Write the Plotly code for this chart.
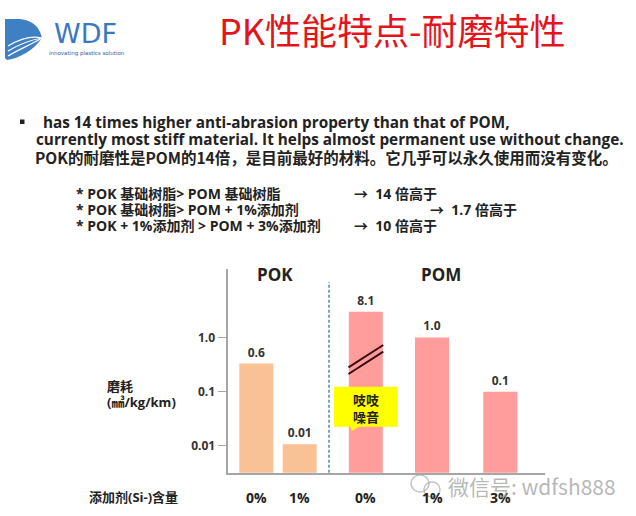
import plotly.graph_objects as go

# The page body margin is removed (see write_html post_script) so the figure fills the 636x516 window.
OFF = 0
W, H = 636 - 2 * OFF, 516 - 2 * OFF

# ---------------- data ----------------
groups = ["POK", "POK", "POM", "POM", "POM"]
additive = ["0%", "1%", "0%", "1%", "3%"]
wear_labels = ["0.6", "0.01", "8.1", "1.0", "0.1"]        # values printed above the bars
bar_tops = [0.33, 0.0107, 3.0, 1.0, 0.1]                  # bar tops as drawn on the log axis (8.1 bar is broken)
y_tickvals = [0.01, 0.1, 1.0]
y_ticktext = ["0.01", "0.1", "1.0"]
group_colors = {"POK": "#F9C196", "POM": "#FF9C9C"}

# ---------------- layout helpers ----------------
bar_x = [28.0, 71.4, 137.5, 203.7, 272.0]   # slot positions on the x axis
X0, X1 = 228.3, 545.0                        # plot area in window px
Y0, Y1 = 269.3, 472.7


def px(x):
    return (x - OFF) / W


def py(y):
    return 1 - (y - OFF) / H


LAT = "Open Sans, Noto Sans CJK SC, sans-serif"
CJK = "Noto Sans CJK SC, sans-serif"

annotations = []


def ann(text, x, y, size, color="#222222", xanchor="left", weight="bold", family=LAT):
    annotations.append(dict(
        text=text, x=px(x), y=py(y), xref="paper", yref="paper",
        xanchor=xanchor, yanchor="middle", showarrow=False,
        font=dict(size=size, color=color, family=family, weight=weight),
    ))


fig = go.Figure()
fig.add_trace(go.Bar(
    x=bar_x, y=bar_tops, width=34,
    marker=dict(color=[group_colors[g] for g in groups], line=dict(width=0)),
    text=wear_labels, textposition="outside", constraintext="none",
    textfont=dict(size=12, color="#333333", family=LAT, weight="bold"),
    cliponaxis=False, hoverinfo="skip",
))

shapes = []
# dashed divider between POK and POM
shapes.append(dict(type="line", xref="x", yref="paper", x0=329 - X0, x1=329 - X0,
                   y0=py(472.7), y1=py(282), line=dict(color="#4b8fa0", width=1.5, dash="3px,2px")))
# break marks on the 8.1 bar
shapes.append(dict(type="line", xref="paper", yref="paper", x0=px(348.5), y0=py(367.3), x1=px(383.3), y1=py(345),
                   line=dict(color="#3b0b10", width=2)))
shapes.append(dict(type="line", xref="paper", yref="paper", x0=px(348.5), y0=py(374), x1=px(383.3), y1=py(351.7),
                   line=dict(color="#3b0b10", width=2)))
# yellow callout
shapes.append(dict(type="rect", xref="paper", yref="paper", x0=px(334), x1=px(397.3), y0=py(426.7), y1=py(386.7),
                   fillcolor="#FFFF00", line=dict(width=0)))
shapes.append(dict(type="path", xref="paper", yref="paper",
                   path=f"M {px(350)},{py(426)} L {px(360)},{py(426)} L {px(352)},{py(431)} Z",
                   fillcolor="#FFFF00", line=dict(width=0)))
# bullet square
shapes.append(dict(type="rect", xref="paper", yref="paper", x0=px(20), x1=px(24.5), y0=py(124), y1=py(119.5),
                   fillcolor="#222222", line=dict(width=0)))
# logo swoosh
shapes.append(dict(type="path", xref="paper", yref="paper",
                   path=(f"M {px(5)},{py(19)} L {px(20)},{py(19)} C {px(36)},{py(21)} {px(40)},{py(30)} {px(42)},{py(38)} "
                         f"C {px(34)},{py(50)} {px(20)},{py(58)} {px(7)},{py(60)} L {px(5)},{py(58)} Z"),
                   fillcolor="#3f7fc4", line=dict(width=0)))
for off in (0, 5, 10):
    shapes.append(dict(type="path", xref="paper", yref="paper",
                       path=f"M {px(8)},{py(56 - off)} C {px(18)},{py(50 - off)} {px(30)},{py(45 - off)} {px(42)},{py(38)}",
                       line=dict(color="white", width=1.2)))
# watermark icon
shapes.append(dict(type="circle", xref="paper", yref="paper", x0=px(411), x1=px(429), y0=py(492), y1=py(475),
                   line=dict(color="rgba(170,170,170,0.7)", width=1.5)))
shapes.append(dict(type="circle", xref="paper", yref="paper", x0=px(424), x1=px(440), y0=py(497), y1=py(482),
                   line=dict(color="rgba(170,170,170,0.7)", width=1.5)))

# ---------------- texts ----------------
# logo
ann("WDF", 85, 33, 27, color="#3a78c0", xanchor="center", weight="normal", family="DejaVu Sans")
ann("innovating plastics solution", 87, 54, 5.5, color="#2d5f99", xanchor="center", weight="normal", family="DejaVu Sans")
# title
ann("PK性能特点-耐磨特性", 392, 29.5, 36, color="#E3141B", xanchor="center", weight="normal", family=CJK)
# bullet text
ann("has 14 times higher anti-abrasion property than that of POM,", 41, 121.7, 15.3)
ann("currently most stiff material. It helps almost permanent use without change.", 34, 139.3, 15.3)
ann("POK的耐磨性是POM的14倍，是目前最好的材料。它几乎可以永久使用而没有变化。", 33, 156.5, 15.5, family=CJK)
# comparisons
comp_left = ["* POK 基础树脂> POM 基础树脂", "* POK 基础树脂> POM + 1%添加剂", "* POK + 1%添加剂 > POM + 3%添加剂"]
comp_right = ["→  14 倍高于", "→  1.7 倍高于", "→  10 倍高于"]
comp_right_x = [352, 428, 352]
comp_y = [193.3, 209.3, 225.7]
for l, r, rx, yy in zip(comp_left, comp_right, comp_right_x, comp_y):
    ann(l, 74, yy, 14)
    ann(r, rx, yy, 14)
# chart texts
ann("POK", 275, 274.3, 17, xanchor="center")
ann("POM", 440.7, 274.3, 17, xanchor="center")
ann("磨耗", 105, 385, 13, family=CJK)
ann("(㎣/kg/km)", 105, 401.5, 13)
ann("添加剂(Si-)含量", 87, 497.3, 13)
for xx, lab in zip(bar_x, additive):
    annotations.append(dict(text=lab, x=xx, y=py(497.3), xref="x", yref="paper", xanchor="center",
                            yanchor="middle", showarrow=False,
                            font=dict(size=14, color="#222222", family=LAT, weight="bold")))
ann("吱吱<br>噪音", 365.7, 408, 13, xanchor="center", family=CJK)
# watermark
ann("微信号: wdfsh888", 446, 486, 21, color="rgba(160,160,160,0.75)", weight="normal", family=CJK)

fig.update_layout(
    width=W, height=H, margin=dict(l=0, r=0, t=0, b=0),
    paper_bgcolor="white", plot_bgcolor="white", showlegend=False,
    xaxis=dict(domain=[px(X0), px(X1)], range=[0, X1 - X0], showline=True, linecolor="#a6a6a6", linewidth=1.5,
               showticklabels=False, ticks="", showgrid=False, zeroline=False, fixedrange=True),
    yaxis=dict(type="log", domain=[py(Y1), py(Y0)], range=[-2.497, 1.259], showline=True, linecolor="#a6a6a6",
               linewidth=1.5, ticks="outside", ticklen=9, tickcolor="#a6a6a6", tickwidth=1,
               tickvals=y_tickvals, ticktext=y_ticktext, showgrid=False, zeroline=False,
               tickfont=dict(size=12, color="#333333", family=LAT, weight="bold"), fixedrange=True),
    shapes=shapes, annotations=annotations,
)

fig.write_html("out.html", config={"displayModeBar": False},
               post_script="document.body.style.margin='0px'; document.body.style.overflow='hidden';")
